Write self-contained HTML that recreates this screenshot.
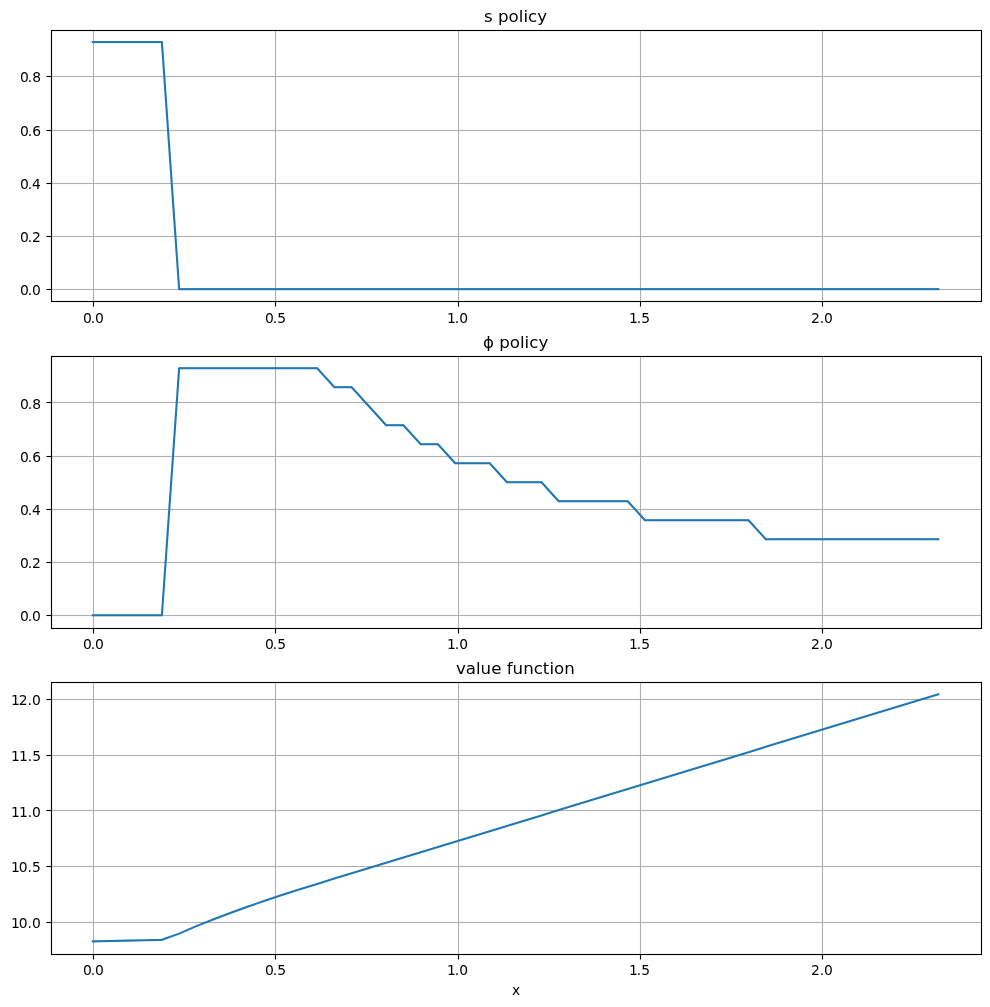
<!DOCTYPE html>
<html lang="en">
<head>
<meta charset="utf-8">
<title>s policy, ϕ policy and value function</title>
<style>
html, body { margin: 0; padding: 0; background: #ffffff; }
body { width: 990px; height: 1007px; overflow: hidden; }
svg { display: block; }
text { font-family: "DejaVu Sans", "Liberation Sans", sans-serif; fill: #000000; }
.tick { font-size: 13.889px; }
.title { font-size: 16.667px; }
.grid { fill: #b0b0b0; }
.ticks { fill: #000000; }
.frame { stroke: #000000; stroke-width: 1.111; fill: none; }
.flat { fill: #1f77b4; }
.slant { stroke: #1f77b4; stroke-width: 2.0833; fill: none; stroke-linejoin: round; stroke-linecap: round; }
.curve { stroke: #1f77b4; stroke-width: 2.0833; fill: none; stroke-linejoin: round; stroke-linecap: square; }
</style>
</head>
<body>
<svg width="990" height="1007" viewBox="0 0 990 1007" role="img" aria-label="s policy, ϕ policy and value function plotted against x">
<rect width="990" height="1007" fill="#ffffff"/>
<g>
<g class="grid"><rect x="92.945" y="30.5" width="1.111" height="271"/><rect x="274.945" y="30.5" width="1.111" height="271"/><rect x="457.945" y="30.5" width="1.111" height="271"/><rect x="639.944" y="30.5" width="1.111" height="271"/><rect x="821.944" y="30.5" width="1.111" height="271"/><rect x="51.5" y="288.945" width="930" height="1.111"/><rect x="51.5" y="235.945" width="930" height="1.111"/><rect x="51.5" y="182.945" width="930" height="1.111"/><rect x="51.5" y="129.945" width="930" height="1.111"/><rect x="51.5" y="75.945" width="930" height="1.111"/></g>
<g class="flat"><rect x="91.83" y="41.034" width="70.06" height="2.083"/><rect x="179.14" y="288.092" width="760.23" height="2.083"/></g>
<path class="slant" d="M161.89 42.08L179.14 289.13"/>
<g class="ticks"><rect x="92.945" y="301.5" width="1.111" height="5"/><rect x="274.945" y="301.5" width="1.111" height="5"/><rect x="457.945" y="301.5" width="1.111" height="5"/><rect x="639.944" y="301.5" width="1.111" height="5"/><rect x="821.944" y="301.5" width="1.111" height="5"/><rect x="46.5" y="288.945" width="5" height="1.111"/><rect x="46.5" y="235.945" width="5" height="1.111"/><rect x="46.5" y="182.945" width="5" height="1.111"/><rect x="46.5" y="129.945" width="5" height="1.111"/><rect x="46.5" y="75.945" width="5" height="1.111"/></g>
<rect class="frame" x="51.5" y="30.5" width="930" height="271"/>
<g class="tick"><text x="82.98 90.66 94.98" y="323">0.0</text><text x="264.88 272.81 277.28" y="323">0.5</text><text x="446.94 454.82 459.34" y="323">1.0</text><text x="629.06 636.69 641.36" y="323">1.5</text><text x="811 819.83 823.9" y="323">2.0</text></g>
<g class="tick"><text x="20.11 27.8 32.06" y="295">0.0</text><text x="20.11 27.8 31.96" y="242">0.2</text><text x="20.11 27.8 31.96" y="189">0.4</text><text x="20.11 27.8 32.21" y="136">0.6</text><text x="20.11 27.8 32.36" y="82">0.8</text></g>
<text class="title" text-anchor="middle" x="515.6" y="22">s policy</text>
</g>
<g>
<g class="grid"><rect x="92.945" y="356.5" width="1.111" height="272"/><rect x="274.945" y="356.5" width="1.111" height="272"/><rect x="457.945" y="356.5" width="1.111" height="272"/><rect x="639.944" y="356.5" width="1.111" height="272"/><rect x="821.944" y="356.5" width="1.111" height="272"/><rect x="51.5" y="614.944" width="930" height="1.111"/><rect x="51.5" y="561.944" width="930" height="1.111"/><rect x="51.5" y="508.945" width="930" height="1.111"/><rect x="51.5" y="455.945" width="930" height="1.111"/><rect x="51.5" y="401.945" width="930" height="1.111"/></g>
<g class="flat"><rect x="91.83" y="614.21" width="70.06" height="2.083"/><rect x="179.14" y="367.151" width="138.03" height="2.083"/><rect x="334.43" y="386.156" width="17.25" height="2.083"/><rect x="386.19" y="424.165" width="17.25" height="2.083"/><rect x="420.7" y="443.169" width="17.25" height="2.083"/><rect x="455.21" y="462.174" width="34.51" height="2.083"/><rect x="506.97" y="481.178" width="34.51" height="2.083"/><rect x="558.73" y="500.183" width="69.02" height="2.083"/><rect x="645" y="519.187" width="103.53" height="2.083"/><rect x="765.78" y="538.192" width="173.58" height="2.083"/></g>
<path class="slant" d="M161.89 615.25L179.14 368.19M317.17 368.19L334.43 387.2M351.68 387.2L386.19 425.21M403.45 425.21L420.7 444.21M437.95 444.21L455.21 463.22M489.72 463.22L506.97 482.22M541.48 482.22L558.73 501.22M627.75 501.22L645 520.23M748.53 520.23L765.78 539.23"/>
<g class="ticks"><rect x="92.945" y="628.5" width="1.111" height="5"/><rect x="274.945" y="628.5" width="1.111" height="5"/><rect x="457.945" y="628.5" width="1.111" height="5"/><rect x="639.944" y="628.5" width="1.111" height="5"/><rect x="821.944" y="628.5" width="1.111" height="5"/><rect x="46.5" y="614.944" width="5" height="1.111"/><rect x="46.5" y="561.944" width="5" height="1.111"/><rect x="46.5" y="508.945" width="5" height="1.111"/><rect x="46.5" y="455.945" width="5" height="1.111"/><rect x="46.5" y="401.945" width="5" height="1.111"/></g>
<rect class="frame" x="51.5" y="356.5" width="930" height="272"/>
<g class="tick"><text x="82.98 90.66 94.98" y="649">0.0</text><text x="264.88 272.81 277.28" y="649">0.5</text><text x="446.94 454.82 459.34" y="649">1.0</text><text x="629.06 636.69 641.36" y="649">1.5</text><text x="811 819.83 823.9" y="649">2.0</text></g>
<g class="tick"><text x="20.11 27.8 32.06" y="621">0.0</text><text x="20.11 27.8 31.96" y="568">0.2</text><text x="20.11 27.8 31.96" y="515">0.4</text><text x="20.11 27.8 32.21" y="462">0.6</text><text x="20.11 27.8 32.36" y="409">0.8</text></g>
<text class="title" text-anchor="middle" x="515.6" y="348">ϕ policy</text>
</g>
<g>
<g class="grid"><rect x="92.945" y="682.5" width="1.111" height="272"/><rect x="274.945" y="682.5" width="1.111" height="272"/><rect x="457.945" y="682.5" width="1.111" height="272"/><rect x="639.944" y="682.5" width="1.111" height="272"/><rect x="821.944" y="682.5" width="1.111" height="272"/><rect x="51.5" y="921.944" width="930" height="1.111"/><rect x="51.5" y="865.944" width="930" height="1.111"/><rect x="51.5" y="809.944" width="930" height="1.111"/><rect x="51.5" y="754.944" width="930" height="1.111"/><rect x="51.5" y="698.944" width="930" height="1.111"/></g>
<path class="curve" d="M92.87 941.37 L110.12 940.99 L127.38 940.61 L144.63 940.23 L161.89 939.85 L179.14 933.64 L196.4 926.11 L213.65 919.32 L230.9 912.76 L248.16 906.52 L265.41 900.57 L282.67 894.8 L299.92 889.34 L317.17 883.95 L334.43 878.61 L351.68 873.32 L368.94 868.04 L386.19 862.76 L403.45 857.49 L420.7 852.23 L437.95 846.96 L455.21 841.7 L472.46 836.44 L489.72 831.17 L506.97 825.91 L524.22 820.64 L541.48 815.38 L558.73 810.11 L575.99 804.84 L593.24 799.57 L610.5 794.31 L627.75 789.04 L645 783.77 L662.26 778.51 L679.51 773.24 L696.77 767.98 L714.02 762.71 L731.27 757.43 L748.53 752.15 L765.78 746.86 L783.04 741.57 L800.29 736.28 L817.55 731 L834.8 725.73 L852.05 720.48 L869.31 715.24 L886.56 710.01 L903.82 704.78 L921.07 699.55 L938.32 694.31"/>
<g class="ticks"><rect x="92.945" y="954.5" width="1.111" height="5"/><rect x="274.945" y="954.5" width="1.111" height="5"/><rect x="457.945" y="954.5" width="1.111" height="5"/><rect x="639.944" y="954.5" width="1.111" height="5"/><rect x="821.944" y="954.5" width="1.111" height="5"/><rect x="46.5" y="921.944" width="5" height="1.111"/><rect x="46.5" y="865.944" width="5" height="1.111"/><rect x="46.5" y="809.944" width="5" height="1.111"/><rect x="46.5" y="754.944" width="5" height="1.111"/><rect x="46.5" y="698.944" width="5" height="1.111"/></g>
<rect class="frame" x="51.5" y="682.5" width="930" height="272"/>
<g class="tick"><text x="82.98 90.66 94.98" y="975">0.0</text><text x="264.88 272.81 277.28" y="975">0.5</text><text x="446.94 454.82 459.34" y="975">1.0</text><text x="629.06 636.69 641.36" y="975">1.5</text><text x="811 819.83 823.9" y="975">2.0</text></g>
<g class="tick"><text x="10.88 18.76 27.4 32.11" y="928">10.0</text><text x="10.88 18.76 27.4 31.96" y="872">10.5</text><text x="10.88 19.11 27.8 32.06" y="817">11.0</text><text x="10.88 19.11 27.8 32.16" y="761">11.5</text><text x="10.88 18.86 27.4 32.11" y="705">12.0</text></g>
<text class="title" text-anchor="middle" x="515.35" y="674">value function</text>
<text class="tick" text-anchor="middle" x="516.1" y="995">x</text>
</g>
</svg>
</body>
</html>
